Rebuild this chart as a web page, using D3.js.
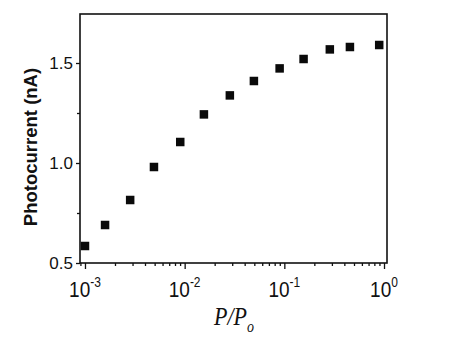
<!DOCTYPE html>
<html>
<head>
<style>
  body { margin: 0; background: #fff; }
  svg { display: block; }
</style>
</head>
<body>
<svg id="chart" width="450" height="337"></svg>
<script src="https://d3js.org/d3.v7.min.js"></script>
<script>
// data
const ratio = [0.001, 0.00159, 0.00284, 0.00492, 0.00903, 0.0156, 0.0284, 0.0495, 0.0897, 0.156, 0.286, 0.455, 0.895];
const current = [0.585, 0.69, 0.815, 0.98, 1.105, 1.243, 1.338, 1.41, 1.473, 1.52, 1.568, 1.58, 1.59];
const xMajor = [1e-3, 1e-2, 1e-1, 1];
const xExp = ["-3", "-2", "-1", "0"];
const yMajor = [0.5, 1.0, 1.5];
const yMinor = [0.75, 1.25];

const svg = d3.select("#chart");
const plotL = 80, plotR = 387, plotT = 14, plotB = 263;
const sans = "'Liberation Sans', Arial, sans-serif";

const x = d3.scaleLog().domain([Math.pow(10, -3.05), Math.pow(10, 0.03)]).range([plotL, plotR]);
const y = d3.scaleLinear().domain([0.5, 1.745]).range([plotB, plotT]);

const ink = "#111";

// y axis
const yAxis = svg.append("g").attr("transform", `translate(${plotL},0)`)
    .call(d3.axisLeft(y).tickValues(yMajor).tickSize(4).tickFormat(d3.format(".1f")));
yAxis.select(".domain").remove();
yAxis.selectAll("line").attr("stroke", ink).attr("stroke-width", 1.3);
yAxis.selectAll("text")
    .attr("font-family", sans)
    .attr("font-size", 17).attr("fill", ink).attr("x", -7);

const yMin = svg.append("g").attr("transform", `translate(${plotL},0)`)
    .call(d3.axisLeft(y).tickValues(yMinor).tickSize(3).tickFormat(""));
yMin.select(".domain").remove();
yMin.selectAll("line").attr("stroke", ink).attr("stroke-width", 1.3);

// x axis: minor ticks then major ticks
const minorVals = x.ticks().filter(v => !xMajor.some(m => Math.abs(m - v) / m < 1e-6));
const xMin = svg.append("g").attr("transform", `translate(0,${plotB})`)
    .call(d3.axisBottom(x).tickValues(minorVals).tickSize(3).tickFormat(""));
xMin.select(".domain").remove();
xMin.selectAll("line").attr("stroke", ink).attr("stroke-width", 1.3);

const xAx = svg.append("g").attr("transform", `translate(0,${plotB})`)
    .call(d3.axisBottom(x).tickValues(xMajor).tickSize(6).tickFormat(""));
xAx.select(".domain").remove();
xAx.selectAll("line").attr("stroke", ink).attr("stroke-width", 1.3);

// x tick labels 10^n
xMajor.forEach((v, i) => {
  const t = svg.append("text")
      .attr("transform", `translate(${x(v)},297) scale(1,1.2)`)
      .attr("text-anchor", "middle")
      .attr("font-family", sans)
      .attr("font-size", 19).attr("fill", ink);
  t.append("tspan").text("10");
  t.append("tspan").attr("dy", -8).attr("font-size", 12).text(xExp[i]);
});

// frame
svg.append("rect")
    .attr("x", plotL).attr("y", plotT)
    .attr("width", plotR - plotL).attr("height", plotB - plotT)
    .attr("fill", "none").attr("stroke", ink).attr("stroke-width", 1.6);

// points
const s = 8.5;
svg.append("g").selectAll("rect")
    .data(ratio.map((r, i) => [r, current[i]]))
    .join("rect")
    .attr("x", d => x(d[0]) - s / 2)
    .attr("y", d => y(d[1]) - s / 2)
    .attr("width", s).attr("height", s)
    .attr("fill", "#0a0a0a");

// axis titles
svg.append("text")
    .attr("transform", "translate(37,147) rotate(-90)")
    .attr("text-anchor", "middle")
    .attr("font-family", sans)
    .attr("font-weight", "bold")
    .attr("font-size", 18.5).attr("fill", ink)
    .text("Photocurrent (nA)");

const xt = svg.append("text")
    .attr("transform", "translate(234,325) scale(1,1.13)")
    .attr("text-anchor", "middle")
    .attr("font-family", "'Liberation Serif', 'Times New Roman', serif")
    .attr("font-style", "italic")
    .attr("font-size", 22).attr("fill", ink);
xt.append("tspan").text("P/P");
xt.append("tspan").attr("dy", 6).attr("font-size", 14).text("o");
</script>
</body>
</html>
